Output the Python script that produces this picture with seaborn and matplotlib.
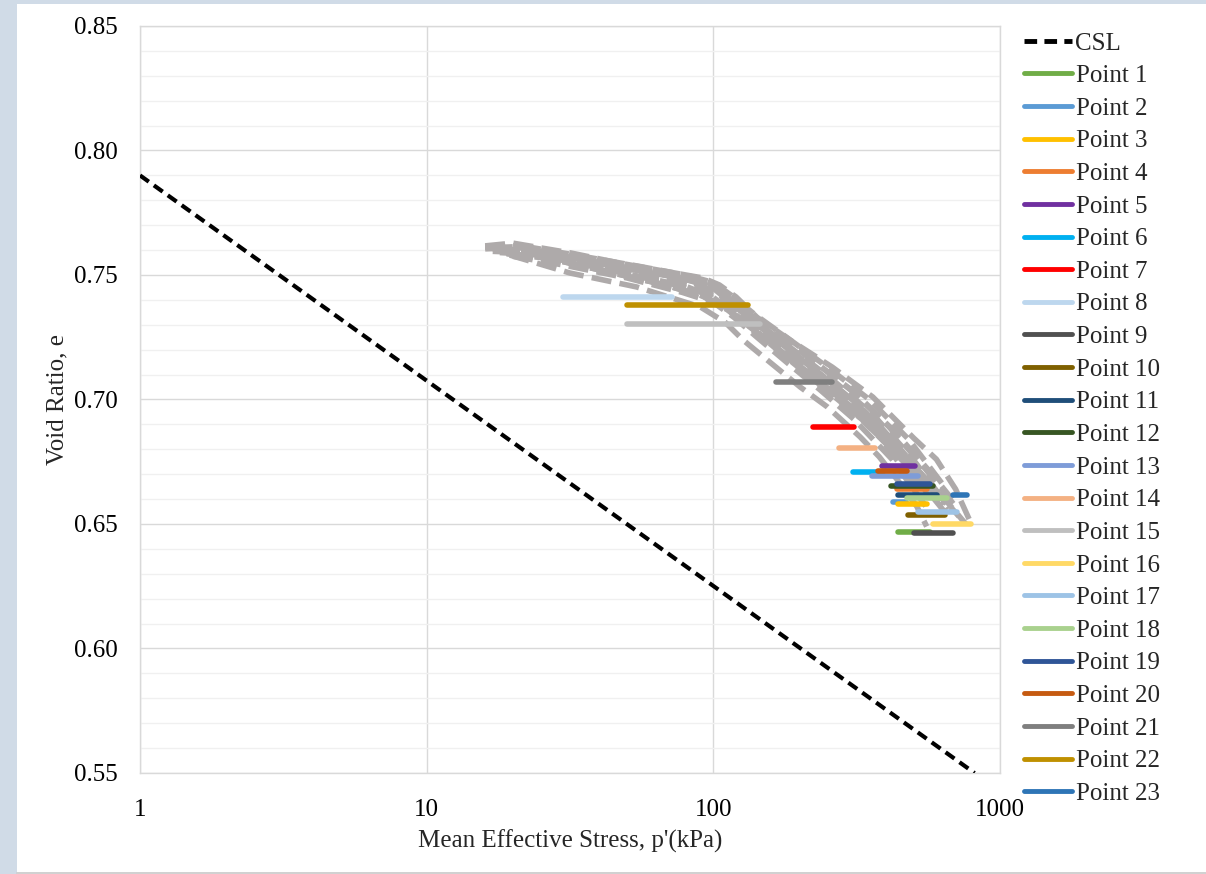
import numpy as np
import pandas as pd
import matplotlib
matplotlib.use("Agg")
import matplotlib.pyplot as plt
import matplotlib.ticker as mticker
from matplotlib.patches import Rectangle
from matplotlib.lines import Line2D
import seaborn as sns

# ---------------- data ----------------
csl_p = [1, 815]
csl_e = [0.790, 0.550]

point_labels = ["Point %d" % i for i in range(1, 24)]
point_e = [0.6468, 0.6588, 0.6580, 0.6640, 0.6733, 0.6710, 0.6890, 0.7412,
           0.6464, 0.6536, 0.6617, 0.6653, 0.6693, 0.6805, 0.7303, 0.6500,
           0.6548, 0.6604, 0.6660, 0.6713, 0.7070, 0.7380, 0.6617]
point_p_start = [441, 423, 441, 437, 387, 307, 222, 30, 501, 477, 441, 416,
                 357, 274, 50, 583, 517, 473, 437, 375, 165, 50, 685]
point_p_end = [569, 470, 556, 556, 505, 391, 309, 72, 685, 643, 603, 583,
               517, 366, 145, 791, 707, 653, 569, 473, 259, 132, 767]

gray_A_p = [16, 20, 32, 47, 70, 92, 105, 120, 142, 185, 260, 360, 500, 600, 700, 780]
gray_A_e = [0.7617, 0.7628, 0.7588, 0.7548, 0.7512, 0.7488, 0.7460, 0.7412, 0.7330,
            0.7239, 0.7130, 0.7010, 0.6845, 0.6760, 0.6640, 0.6520]
gray_B_p = [17, 22, 35, 55, 80, 100, 115, 140, 180, 250, 350, 480, 640]
gray_B_e = [0.7610, 0.7615, 0.7575, 0.7535, 0.7500, 0.7470, 0.7420, 0.7340, 0.7250,
            0.7130, 0.7000, 0.6840, 0.6650]
gray_C_p = [16, 21, 33, 50, 75, 98, 112, 135, 170, 230, 320, 440, 600]
gray_C_e = [0.7605, 0.7610, 0.7565, 0.7525, 0.7490, 0.7455, 0.7400, 0.7320, 0.7230,
            0.7110, 0.6980, 0.6810, 0.6600]
gray_D_p = [18, 24, 38, 60, 85, 105, 125, 160, 210, 290, 400, 560]
gray_D_e = [0.7600, 0.7595, 0.7550, 0.7505, 0.7470, 0.7420, 0.7350, 0.7250, 0.7140,
            0.7010, 0.6850, 0.6620]
gray_E_p = [17, 22, 36, 55, 80, 100, 120, 150, 200, 280, 380, 520]
gray_E_e = [0.7595, 0.7590, 0.7540, 0.7495, 0.7455, 0.7410, 0.7340, 0.7250, 0.7130,
            0.7000, 0.6850, 0.6640]
gray_F_p = [18, 25, 40, 62, 88, 108, 130, 165, 220, 300, 420, 580, 720]
gray_F_e = [0.7590, 0.7580, 0.7530, 0.7480, 0.7440, 0.7390, 0.7320, 0.7220, 0.7110,
            0.6980, 0.6820, 0.6650, 0.6530]
gray_G_p = [19, 26, 42, 65, 90, 110, 135, 170, 230, 320, 450, 620, 760]
gray_G_e = [0.7585, 0.7570, 0.7515, 0.7465, 0.7420, 0.7370, 0.7290, 0.7200, 0.7080,
            0.6950, 0.6790, 0.6620, 0.6500]
gray_H_p = [19.5, 31.6, 54, 90, 110, 127, 154, 201, 250, 325, 379, 447, 513, 555]
gray_H_e = [0.7580, 0.7508, 0.7452, 0.7372, 0.7310, 0.7239, 0.7159, 0.7050, 0.6970,
            0.6850, 0.6770, 0.6665, 0.6570, 0.6490]
gray_I_p = [20, 28, 45, 70, 95, 115, 140, 180, 240, 330, 460, 640]
gray_I_e = [0.7580, 0.7560, 0.7505, 0.7455, 0.7405, 0.7350, 0.7270, 0.7170, 0.7050,
            0.6920, 0.6760, 0.6580]
gray_J_p = [16, 20, 30, 48, 72, 95, 110, 130, 165, 220, 310, 430, 560, 680]
gray_J_e = [0.7612, 0.7620, 0.7580, 0.7540, 0.7505, 0.7475, 0.7430, 0.7360, 0.7270,
            0.7160, 0.7030, 0.6870, 0.6720, 0.6600]
gray_K_p = [18, 23, 37, 58, 84, 104, 122, 150, 195, 270, 370, 500, 660]
gray_K_e = [0.7600, 0.7600, 0.7555, 0.7510, 0.7470, 0.7430, 0.7370, 0.7280, 0.7180,
            0.7050, 0.6910, 0.6740, 0.6560]
gray_L_p = [19, 27, 44, 68, 92, 112, 138, 175, 235, 330, 470, 650]
gray_L_e = [0.7588, 0.7565, 0.7510, 0.7460, 0.7415, 0.7360, 0.7280, 0.7180, 0.7060,
            0.6920, 0.6740, 0.6540]
gray_M_p = [17, 23, 36, 56, 82, 102, 120, 148, 190, 260, 360, 490, 650]
gray_M_e = [0.7605, 0.7600, 0.7560, 0.7520, 0.7480, 0.7445, 0.7385, 0.7295, 0.7200,
            0.7080, 0.6940, 0.6770, 0.6580]
gray_N_p = [18, 25, 40, 63, 88, 108, 128, 158, 205, 285, 390, 530, 690]
gray_N_e = [0.7595, 0.7585, 0.7535, 0.7488, 0.7448, 0.7400, 0.7330, 0.7240, 0.7130,
            0.7000, 0.6860, 0.6700, 0.6550]
gray_O_p = [20, 30, 50, 78, 100, 118, 142, 180, 235, 310, 420, 560]
gray_O_e = [0.7575, 0.7540, 0.7488, 0.7430, 0.7390, 0.7330, 0.7250, 0.7150, 0.7040,
            0.6920, 0.6760, 0.6560]
gray_P_p = [16, 21, 34, 52, 78, 97, 110, 128, 160, 215, 300, 410, 550, 700]
gray_P_e = [0.7610, 0.7618, 0.7572, 0.7530, 0.7495, 0.7465, 0.7425, 0.7365, 0.7280,
            0.7170, 0.7040, 0.6890, 0.6720, 0.6570]

x_ticks = [1, 10, 100, 1000]
x_tick_labels = ["1", "10", "100", "1000"]
y_ticks = [0.55, 0.60, 0.65, 0.70, 0.75, 0.80, 0.85]
y_tick_labels = ["0.55", "0.60", "0.65", "0.70", "0.75", "0.80", "0.85"]

# ---------------- styles ----------------
point_colors = ["#70AD47", "#5B9BD5", "#FFC000", "#ED7D31", "#7030A0", "#00B0F0",
                "#FF0000", "#BDD7EE", "#505050", "#7F6000", "#1F4E79", "#375623",
                "#7E9CD8", "#F4B183", "#BFBFBF", "#FFD966", "#9DC3E6", "#A9D18E",
                "#2F5597", "#C55A11", "#7F7F7F", "#BF9000", "#2E75B6"]
gray_color = "#AEAAAA"

sns.set_theme(style="white")
plt.rcParams["font.family"] = ["Liberation Serif", "DejaVu Serif"]

W, H = 1206, 874
fig = plt.figure(figsize=(W / 100, H / 100), dpi=100)
fig.patch.set_facecolor("white")
band = "#D0DBE7"
fig.add_artist(Rectangle((0, 0), 17 / W, 1, transform=fig.transFigure,
                         facecolor=band, edgecolor="none", zorder=-10))
fig.add_artist(Rectangle((0, 1 - 4 / H), 1, 4 / H, transform=fig.transFigure,
                         facecolor=band, edgecolor="none", zorder=-10))
fig.add_artist(Line2D([17 / W, 1], [1.5 / H, 1.5 / H], transform=fig.transFigure,
                      color="#C8C8C8", lw=1.2))

ax = fig.add_axes([140 / W, 1 - 773 / H, 860 / W, 747 / H])
ax.set_facecolor("white")

# gray dashed curves
gray_sets = [(gray_A_p, gray_A_e), (gray_B_p, gray_B_e), (gray_C_p, gray_C_e),
             (gray_D_p, gray_D_e), (gray_E_p, gray_E_e), (gray_F_p, gray_F_e),
             (gray_G_p, gray_G_e), (gray_H_p, gray_H_e), (gray_I_p, gray_I_e),
             (gray_J_p, gray_J_e), (gray_K_p, gray_K_e), (gray_L_p, gray_L_e),
             (gray_M_p, gray_M_e), (gray_N_p, gray_N_e), (gray_O_p, gray_O_e),
             (gray_P_p, gray_P_e)]
for gp, ge in gray_sets:
    sns.lineplot(x=gp, y=ge, ax=ax, color=gray_color, lw=4.0, sort=False,
                 estimator=None, linestyle=(0, (3.6, 1.5)), legend=False, zorder=2)

# CSL
sns.lineplot(x=csl_p, y=csl_e, ax=ax, color="black", lw=3.0, sort=False,
             estimator=None, linestyle=(0, (2.6, 1.5)), label="CSL", zorder=4)

# Points
for lab, e, p0, p1, c in zip(point_labels, point_e, point_p_start, point_p_end, point_colors):
    sns.lineplot(x=[p0, p1], y=[e, e], ax=ax, color=c, lw=4.0, sort=False,
                 estimator=None, label=lab, solid_capstyle="round", zorder=3)

ax.set_xscale("log")
ax.set_xlim(1, 1000)
ax.set_ylim(0.55, 0.85)
ax.set_xticks(x_ticks)
ax.set_xticklabels(x_tick_labels)
ax.xaxis.set_minor_locator(mticker.NullLocator())
ax.set_yticks(y_ticks)
ax.set_yticklabels(y_tick_labels)
ax.yaxis.set_minor_locator(mticker.MultipleLocator(0.01))
ax.grid(True, which="major", axis="both", color="#D9D9D9", lw=1.0)
ax.grid(True, which="minor", axis="y", color="#F0F0F0", lw=1.0)
ax.set_axisbelow(True)
for s in ax.spines.values():
    s.set_color("#D9D9D9")
    s.set_linewidth(1.0)
ax.tick_params(axis="both", which="both", length=0, labelsize=18, colors="black")
ax.tick_params(axis="y", pad=16)
ax.tick_params(axis="x", pad=19)
ax.set_xlabel("Mean Effective Stress, p'(kPa)", fontsize=18, labelpad=6)
ax.set_ylabel("Void Ratio, e", fontsize=18, labelpad=4)

handles, labels = ax.get_legend_handles_labels()
if ax.get_legend() is not None:
    ax.get_legend().remove()
leg = fig.legend(handles, labels, loc="upper left",
                 bbox_to_anchor=(1024 / W, 1 - 32 / H), bbox_transform=fig.transFigure,
                 frameon=False, fontsize=18, handlelength=1.9, handletextpad=0.16,
                 labelspacing=0.405, borderpad=0, borderaxespad=0)
for lh in leg.get_lines():
    lh.set_linewidth(3.5)

fig.savefig("out.png", dpi=100, facecolor=fig.get_facecolor())
